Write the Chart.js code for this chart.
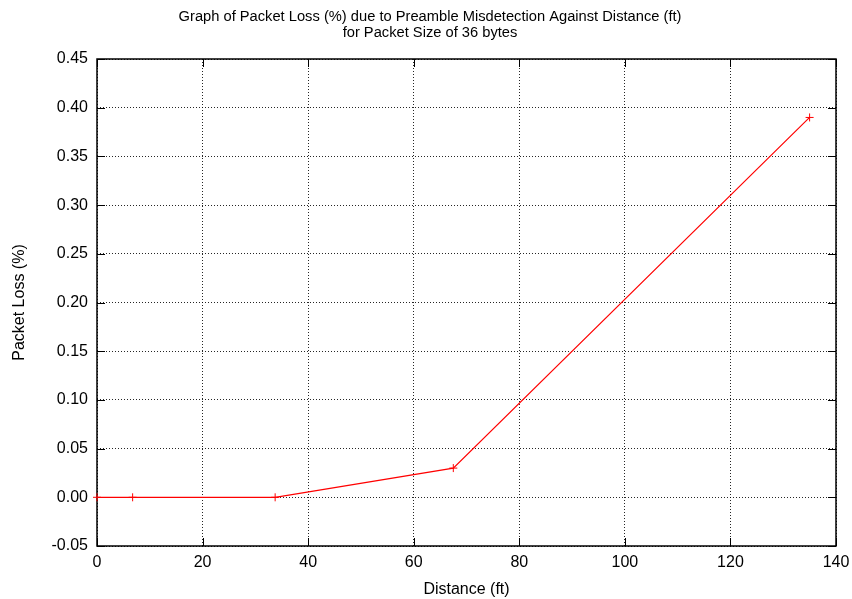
<!DOCTYPE html>
<html>
<head>
<meta charset="utf-8">
<script src="https://cdn.jsdelivr.net/npm/chart.js@4/dist/chart.umd.min.js"></script>
<style>
  html,body{margin:0;padding:0;background:#fff;}
  #wrap{width:852px;height:599px;}
</style>
</head>
<body>
<div id="wrap"><canvas id="mainChart" width="852" height="599"></canvas></div>
<script>
const distances = [0, 6.75, 33.75, 67.5, 135];
const packetLoss = [0, 0, 0, 0.03, 0.39];

const titleLines = [
  "Graph of Packet Loss (%) due to Preamble Misdetection Against Distance (ft)",
  "for Packet Size of 36 bytes"
];
const xLabel = "Distance (ft)";
const yLabel = "Packet Loss (%)";

const FONT = "'Liberation Sans', Arial, Helvetica, sans-serif";

// gnuplot style: border all round, ticks pointing in on every side
const borderTicks = {
  id: "borderTicks",
  beforeDatasetsDraw(c){
    const ctx = c.ctx, a = c.chartArea;
    const xs = c.scales.x, ys = c.scales.y;
    const len = 8;
    ctx.save();
    ctx.strokeStyle = "#000";
    ctx.lineWidth = 1;
    ctx.beginPath();
    xs.ticks.forEach(t => {
      const px = Math.round(xs.getPixelForValue(t.value)) + 0.5;
      ctx.moveTo(px, a.bottom); ctx.lineTo(px, a.bottom - len);
      ctx.moveTo(px, a.top); ctx.lineTo(px, a.top + len);
    });
    ys.ticks.forEach(t => {
      const py = Math.round(ys.getPixelForValue(t.value)) + 0.5;
      ctx.moveTo(a.left, py); ctx.lineTo(a.left + len, py);
      ctx.moveTo(a.right, py); ctx.lineTo(a.right - len, py);
    });
    ctx.stroke();
    ctx.lineWidth = 1.5;
    ctx.strokeRect(a.left, a.top, a.right - a.left, a.bottom - a.top);
    ctx.restore();
  },
  // gnuplot centres the title over the whole canvas, not the plot box
  afterDraw(c){
    const ctx = c.ctx;
    ctx.save();
    ctx.fillStyle = "#000";
    ctx.font = "14.7px " + FONT;
    ctx.textAlign = "center";
    ctx.textBaseline = "middle";
    ctx.fillText(titleLines[0], 430, 17);
    ctx.fillText(titleLines[1], 430, 33);
    ctx.restore();
  }
};

const ctx = document.getElementById("mainChart").getContext("2d");
new Chart(ctx, {
  type: "line",
  data: {
    datasets: [{
      data: distances.map((d, i) => ({x: d, y: packetLoss[i]})),
      borderColor: "#ff0000",
      backgroundColor: "#ff0000",
      borderWidth: 1.2,
      pointStyle: "cross",
      pointRadius: 4,
      pointBorderWidth: 1,
      tension: 0,
      fill: false,
      clip: false
    }]
  },
  options: {
    responsive: false,
    animation: false,
    layout: {padding: {left: 0, right: 16, top: 59, bottom: 0}},
    plugins: {
      legend: {display: false},
      tooltip: {enabled: false},
      title: {display: false}
    },
    scales: {
      x: {
        type: "linear",
        min: 0, max: 140,
        afterFit(s){ s.height = 53; s.paddingRight = 0; s.paddingLeft = 0; },
        ticks: {stepSize: 20, color: "#000", padding: 7,
          font: {family: FONT, size: 16}},
        grid: {color: "rgba(0,0,0,0.85)", drawTicks: false, lineWidth: 1},
        border: {display: false, dash: [1, 2]},
        title: {display: true, text: xLabel, color: "#000",
          font: {family: FONT, size: 16}, padding: {top: 2, bottom: 0}}
      },
      y: {
        type: "linear",
        min: -0.05, max: 0.45,
        afterFit(s){ s.width = 97; s.paddingTop = 0; s.paddingBottom = 0; },
        ticks: {stepSize: 0.05, color: "#000", padding: 9,
          font: {family: FONT, size: 16},
          callback: v => Number(v).toFixed(2)},
        grid: {color: "rgba(0,0,0,0.85)", drawTicks: false, lineWidth: 1},
        border: {display: false, dash: [1, 2]},
        title: {display: true, text: yLabel, color: "#000",
          font: {family: FONT, size: 16}, padding: {top: 10, bottom: 0}}
      }
    }
  },
  plugins: [borderTicks]
});
</script>
</body>
</html>
